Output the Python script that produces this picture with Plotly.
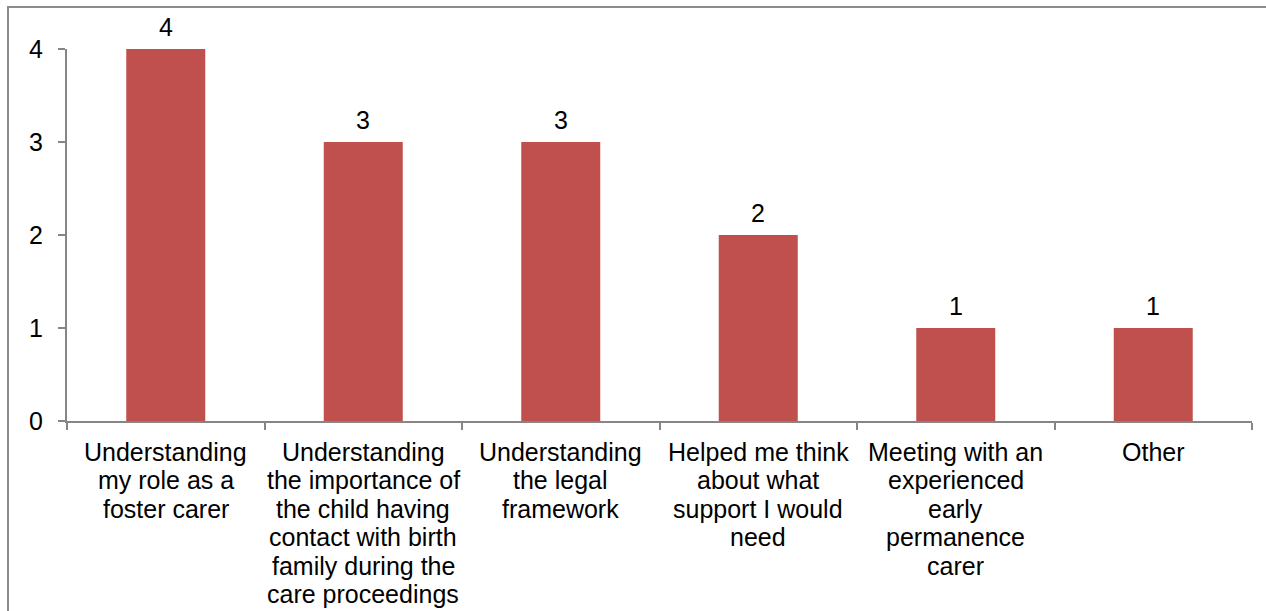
import plotly.graph_objects as go

categories = [
    "Understanding my role as a foster carer",
    "Understanding the importance of the child having contact with birth family during the care proceedings",
    "Understanding the legal framework",
    "Helped me think about what support I would need",
    "Meeting with an experienced early permanence carer",
    "Other",
]
category_lines = [
    ["Understanding", "my role as a", "foster carer"],
    ["Understanding", "the importance of", "the child having", "contact with birth", "family during the", "care proceedings"],
    ["Understanding", "the legal", "framework"],
    ["Helped me think", "about what", "support I would", "need"],
    ["Meeting with an", "experienced", "early", "permanence", "carer"],
    ["Other"],
]
values = [4, 3, 3, 2, 1, 1]
y_ticks = [0, 1, 2, 3, 4]

W, H = 1266, 611
L, R, T, B = 67, 14, 49, 190
pw, ph = W - L - R, H - T - B
FONT = "Liberation Sans, Arial"
FS = 25

fig = go.Figure(go.Bar(
    x=categories, y=values,
    marker=dict(color="#C0504D", line=dict(width=0)),
    hoverinfo="x+y",
))

annotations = []
for cat, v in zip(categories, values):
    annotations.append(dict(
        x=cat, y=v, xref="x", yref="y", text=str(v), showarrow=False,
        yanchor="middle", yshift=22,
        font=dict(family=FONT, size=FS, color="#000000"),
    ))
for cat, lines in zip(categories, category_lines):
    for i, line in enumerate(lines):
        annotations.append(dict(
            x=cat, y=0, xref="x", yref="y", text=line, showarrow=False,
            yanchor="middle", yshift=-(31 + i * 28.4),
            font=dict(family=FONT, size=FS, color="#000000"),
        ))

axis_color = "#868686"
fig.update_layout(
    width=W, height=H,
    margin=dict(l=L, r=R, t=T, b=B, pad=0),
    paper_bgcolor="white", plot_bgcolor="white",
    bargap=0.6,
    showlegend=False,
    font=dict(family=FONT, size=FS, color="#000000"),
    xaxis=dict(
        showline=True, linecolor=axis_color, linewidth=2,
        ticks="outside", tickson="boundaries", ticklen=7, tickcolor=axis_color, tickwidth=2,
        showgrid=False, showticklabels=False, automargin=False,
    ),
    yaxis=dict(
        range=[0, 4], tickvals=y_ticks,
        showline=True, linecolor=axis_color, linewidth=2,
        ticks="outside", ticklen=7, tickcolor=axis_color, tickwidth=2,
        showgrid=False, zeroline=False, automargin=False,
        tickfont=dict(size=FS),
        ticklabelstandoff=10,
    ),
    annotations=annotations,
    shapes=[dict(
        type="rect", xref="paper", yref="paper",
        x0=(8 - L) / pw, x1=1.2,
        y0=-1.0, y1=(H - B - 7) / ph,
        line=dict(color="#8c8c8c", width=2), fillcolor="rgba(0,0,0,0)",
        layer="below",
    )],
)

fig.write_html("out.html")
